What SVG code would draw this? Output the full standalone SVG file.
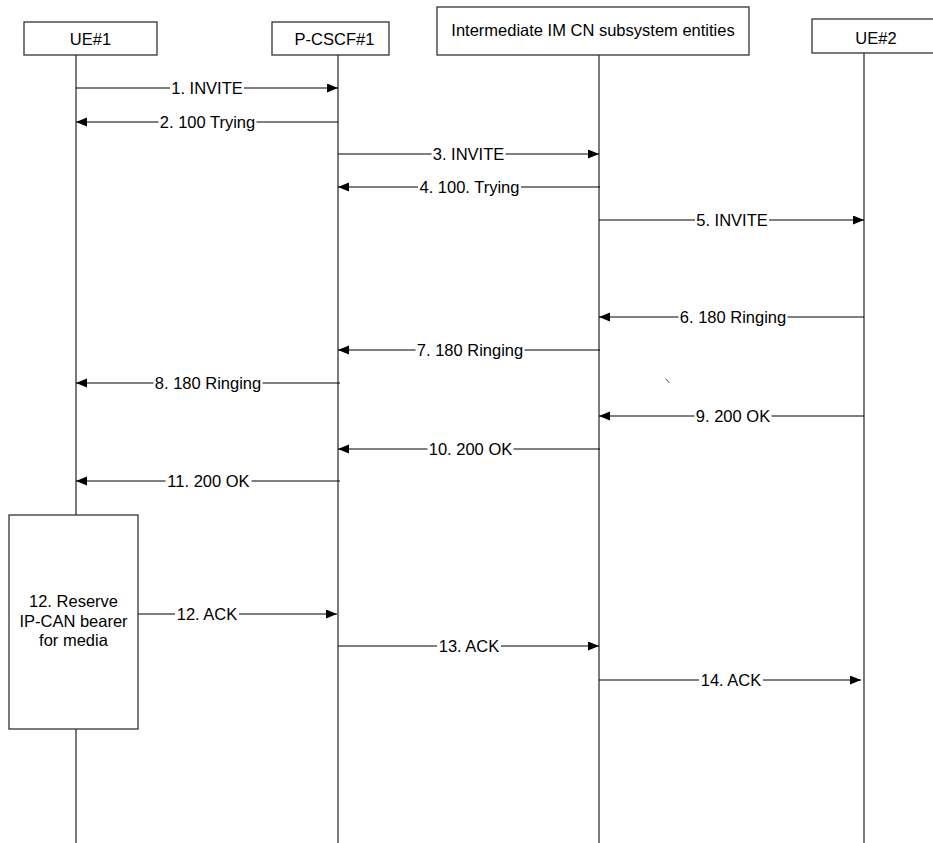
<svg xmlns="http://www.w3.org/2000/svg" width="933" height="843" viewBox="0 0 933 843">
<defs>
<marker id="ah" markerUnits="userSpaceOnUse" markerWidth="12" markerHeight="10" refX="11" refY="4.5" orient="auto">
<path d="M0,0 L11,4.5 L0,9 z" fill="#000"/>
</marker>
<style>
text{font-family:"Liberation Sans",Arial,sans-serif;font-size:16.5px;fill:#000;text-anchor:middle}
.box{fill:#fff;stroke:#333;stroke-width:1.3}
.life{stroke:#333;stroke-width:1.3;fill:none}
.msg{stroke:#000;stroke-width:1;fill:none}
.arr{marker-end:url(#ah)}
.bg{fill:#fff}
</style>
</defs>
<rect width="933" height="843" fill="#fff"/>
<g id="ue1">
<line class="life" x1="76" y1="55" x2="76" y2="843"/>
<rect class="box" x="24" y="22" width="133" height="33"/>
<text x="90.5" y="45">UE#1</text>
</g>
<g id="pcscf1">
<line class="life" x1="338" y1="55" x2="338" y2="843"/>
<rect class="box" x="272" y="22" width="117" height="33"/>
<text x="334.5" y="45">P-CSCF#1</text>
</g>
<g id="intermediate">
<line class="life" x1="599" y1="55" x2="599" y2="843"/>
<rect class="box" x="437" y="7" width="312" height="48"/>
<text x="593" y="35.5">Intermediate IM CN subsystem entities</text>
</g>
<g id="ue2">
<line class="life" x1="864" y1="53" x2="864" y2="843"/>
<rect class="box" x="812" y="19" width="130" height="34"/>
<text x="876" y="44">UE#2</text>
</g>
<g id="reserve">
<rect class="box" x="9" y="515" width="129" height="214"/>
<text x="73.5" y="607">12. Reserve</text>
<text x="73.5" y="627">IP-CAN bearer</text>
<text x="73.5" y="646">for media</text>
</g>
<g id="stray">
<line x1="665.5" y1="378.5" x2="669.5" y2="383" stroke="#333" stroke-width="0.8"/>
</g>
<g id="connectors">
<g id="m1"><line class="msg arr" x1="76" y1="88" x2="338" y2="88"/><rect class="bg" x="170" y="80" width="74" height="16"/><text x="207" y="94">1. INVITE</text></g>
<g id="m2"><line class="msg arr" x1="338" y1="122" x2="76" y2="122"/><rect class="bg" x="158.5" y="114" width="98" height="16"/><text x="207.5" y="128">2. 100 Trying</text></g>
<g id="m3"><line class="msg arr" x1="338" y1="154" x2="599" y2="154"/><rect class="bg" x="431.5" y="146" width="74" height="16"/><text x="468.5" y="160">3. INVITE</text></g>
<g id="m4"><line class="msg arr" x1="600" y1="187" x2="338" y2="187"/><rect class="bg" x="418" y="179" width="103" height="16"/><text x="469.5" y="193">4. 100. Trying</text></g>
<g id="m5"><line class="msg arr" x1="599" y1="220" x2="864" y2="220"/><rect class="bg" x="695" y="212" width="74" height="16"/><text x="732" y="226">5. INVITE</text></g>
<g id="m6"><line class="msg arr" x1="864" y1="317" x2="599" y2="317"/><rect class="bg" x="678.5" y="309" width="109" height="16"/><text x="733" y="323">6. 180 Ringing</text></g>
<g id="m7"><line class="msg arr" x1="600" y1="350" x2="338" y2="350"/><rect class="bg" x="415.5" y="342" width="109" height="16"/><text x="470" y="356">7. 180 Ringing</text></g>
<g id="m8"><line class="msg arr" x1="340" y1="383" x2="76" y2="383"/><rect class="bg" x="153.5" y="375" width="109" height="16"/><text x="208" y="389">8. 180 Ringing</text></g>
<g id="m9"><line class="msg arr" x1="864" y1="416" x2="599" y2="416"/><rect class="bg" x="694.5" y="408" width="77" height="16"/><text x="733" y="422">9. 200 OK</text></g>
<g id="m10"><line class="msg arr" x1="600" y1="449" x2="338" y2="449"/><rect class="bg" x="427.5" y="441" width="86" height="16"/><text x="470.5" y="455">10. 200 OK</text></g>
<g id="m11"><line class="msg arr" x1="340" y1="481" x2="76" y2="481"/><rect class="bg" x="165.5" y="473" width="86" height="16"/><text x="208.5" y="487">11. 200 OK</text></g>
<g id="m12"><line class="msg arr" x1="138" y1="614" x2="337" y2="614"/><rect class="bg" x="175" y="606" width="64" height="16"/><text x="207" y="620">12. ACK</text></g>
<g id="m13"><line class="msg arr" x1="338" y1="646" x2="599" y2="646"/><rect class="bg" x="437" y="638" width="64" height="16"/><text x="469" y="652">13. ACK</text></g>
<g id="m14"><line class="msg arr" x1="599" y1="680" x2="861" y2="680"/><rect class="bg" x="699" y="672" width="64" height="16"/><text x="731" y="686">14. ACK</text></g>
</g>
</svg>
